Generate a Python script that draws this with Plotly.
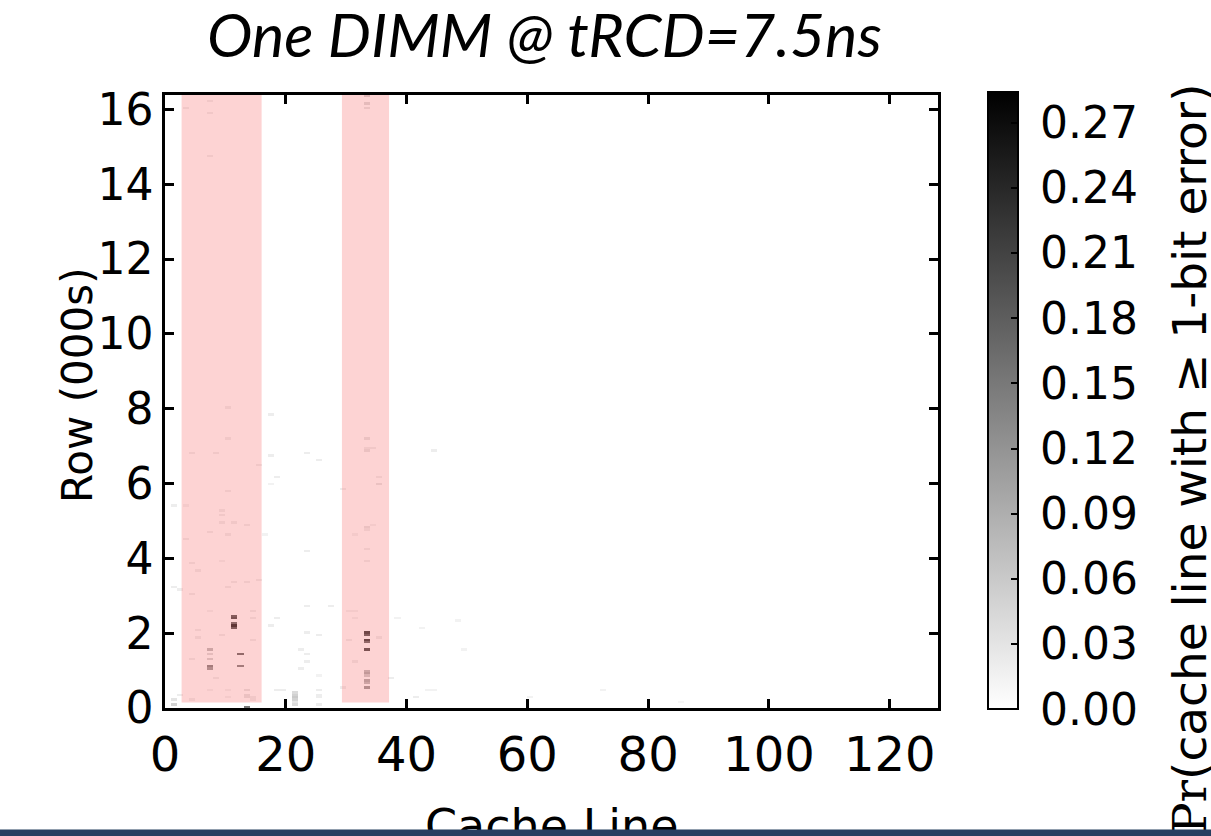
import numpy as np
import plotly.graph_objects as go

# ---------------- data ----------------
n_cache_lines = 128
n_rows_k = 16.384          # rows, in thousands
row_bin_k = 0.064          # row bin height, thousands

# sparse error-probability marks: cache line index, row (000s), probability
mark_cl = [11, 11, 11, 11, 11,
           33, 33, 33, 33, 33,
           33, 33, 33, 33, 33, 33,
           7, 7, 7, 7, 7,
           12, 12,
           21, 21, 21, 21, 21, 21,
           25, 25, 25, 25,
           14, 14, 13,
           3, 7, 7, 7, 10, 10, 4, 8, 15, 10, 1, 3, 9, 9, 9, 11, 13, 7, 10, 3,
           4, 5, 9, 10, 11, 13, 15, 1, 2, 4, 14, 14, 7, 14, 5, 5, 9, 4, 8,
           7, 10, 10, 13, 13, 13, 1, 4, 2, 1,
           17, 17, 23, 25, 18, 17, 16, 23, 23, 27, 18, 17, 23, 25, 22, 23, 23,
           22, 25, 18, 19, 29, 29,
           33, 33, 33, 33, 33, 34, 33, 35, 35, 33, 33, 34, 31, 33, 33, 30, 31,
           31, 35, 30, 31, 37,
           38, 44, 48, 42, 41, 43, 49, 44, 72, 60, 85]
mark_row = [2.47, 2.38, 2.29, 2.21, 2.12,
            2.02, 1.93, 1.82, 1.75, 1.57,
            1.02, 0.93, 0.84, 0.75, 0.66, 0.57,
            1.54, 1.42, 1.29, 1.13, 1.06,
            1.45, 1.11,
            0.41, 0.35, 0.28, 0.22, 0.15, 0.08,
            0.45, 0.38, 0.30, 0.12,
            0.30, 0.22, 0.03,
            16.02, 16.23, 15.90, 14.77, 8.00, 7.17, 6.81, 6.81, 6.50, 5.78, 5.38,
            5.43, 5.26, 5.12, 4.96, 4.99, 4.90, 4.70, 4.61, 4.48,
            3.87, 3.66, 3.96, 3.24, 3.34, 3.34, 3.45, 3.20, 3.17, 3.02, 2.60,
            2.41, 2.60, 1.84, 2.10, 1.89, 1.94, 1.33, 0.78,
            0.45, 0.45, 0.28, 0.45, 0.37, 0.28, 0.23, 0.23, 0.37, 0.10,
            7.84, 6.75, 6.81, 6.65, 6.18, 6.00, 4.61, 4.19, 2.73, 2.73, 2.41,
            2.18, 2.01, 1.94, 1.55, 1.42, 1.24, 1.05, 0.89, 0.47, 0.47, 0.52, 5.83,
            16.33, 16.16, 16.04, 7.17, 6.96, 6.96, 6.86, 6.20, 5.96, 4.83, 4.74,
            4.89, 4.64, 4.24, 3.92, 2.62, 2.62, 2.41, 1.90, 1.84, 1.26, 0.78,
            2.41, 6.91, 2.33, 2.12, 0.28, 0.45, 1.55, 0.48, 0.48, 0.30, 0.15]
mark_val = [0.20, 0.22, 0.18, 0.27, 0.20,
            0.24, 0.20, 0.24, 0.18, 0.22,
            0.08, 0.10, 0.06, 0.10, 0.08, 0.12,
            0.08, 0.04, 0.05, 0.15, 0.12,
            0.18, 0.15,
            0.04, 0.05, 0.06, 0.05, 0.03, 0.04,
            0.02, 0.02, 0.02, 0.02,
            0.02, 0.02, 0.15,
            0.02, 0.02, 0.02, 0.02, 0.02, 0.02, 0.02, 0.02, 0.02, 0.02, 0.02,
            0.015, 0.02, 0.02, 0.02, 0.02, 0.02, 0.02, 0.02, 0.02,
            0.02, 0.02, 0.015, 0.02, 0.02, 0.02, 0.02, 0.02, 0.02, 0.02, 0.02,
            0.02, 0.015, 0.02, 0.02, 0.02, 0.02, 0.02, 0.02,
            0.015, 0.015, 0.015, 0.03, 0.03, 0.03, 0.03, 0.02, 0.02, 0.05,
            0.02, 0.02, 0.02, 0.02, 0.02, 0.015, 0.015, 0.02, 0.02, 0.02, 0.02,
            0.02, 0.02, 0.02, 0.02, 0.02, 0.02, 0.02, 0.015, 0.02, 0.02, 0.02, 0.02,
            0.05, 0.04, 0.03, 0.03, 0.02, 0.02, 0.03, 0.02, 0.03, 0.03, 0.02,
            0.015, 0.015, 0.02, 0.02, 0.015, 0.015, 0.015, 0.02, 0.02, 0.02, 0.02,
            0.015, 0.02, 0.015, 0.015, 0.02, 0.015, 0.015, 0.015, 0.015, 0.015, 0.01]

# highlighted cache-line bands
band_cl_start = [2.75, 29.3]
band_cl_end = [16.0, 37.1]
band_row_start = 0.15

x_ticks = [0, 20, 40, 60, 80, 100, 120]
y_ticks = [0, 2, 4, 6, 8, 10, 12, 14, 16]
cbar_ticks = [0.00, 0.03, 0.06, 0.09, 0.12, 0.15, 0.18, 0.21, 0.24, 0.27]
z_max = 0.284

title_text = "<i>One DIMM @ tRCD=7.5ns</i>"
x_title = "Cache Line"
y_title = "Row (000s)"
cbar_title = "<span style='font-family:\"DejaVu Serif\"'>Pr</span>(cache line with ≥ 1-bit error)"

# ---------------- build grid ----------------
n_bins = int(round(n_rows_k / row_bin_k))
z = np.zeros((n_bins, n_cache_lines))
for c, r, v in zip(mark_cl, mark_row, mark_val):
    b = min(int(r / row_bin_k), n_bins - 1)
    z[b, c] = max(z[b, c], v)
x_centers = np.arange(n_cache_lines) + 0.5
y_centers = (np.arange(n_bins) + 0.5) * row_bin_k

W, H = 1211, 836
L, R, T, B = 165, 273, 95, 128
plot_w = W - L - R
plot_h = H - T - B

def px_x(p):
    return (p - L) / plot_w

def px_y(p):
    return (H - B - p) / plot_h

SANS = "DejaVu Sans, Verdana, sans-serif"
PAD = "\u2006\u200a"   # small lead-in space before colorbar labels

fig = go.Figure()
fig.add_trace(go.Heatmap(
    x=x_centers, y=y_centers, z=z,
    zmin=0, zmax=z_max, zsmooth=False,
    colorscale=[[0, "#ffffff"], [1, "#000000"]],
    colorbar=dict(
        x=px_x(988), xanchor="left", xpad=0,
        y=-0.002, yanchor="bottom", ypad=0,
        len=1.006, lenmode="fraction", thickness=30, thicknessmode="pixels",
        outlinewidth=2, outlinecolor="black",
        tickvals=cbar_ticks, ticktext=[PAD + f"{v:.2f}" for v in cbar_ticks],
        ticks="inside", ticklen=8, tickwidth=2, tickcolor="black",
        tickfont=dict(family=SANS, size=44, color="black"),
    ),
    hoverinfo="skip",
))

shapes = []
for s, e in zip(band_cl_start, band_cl_end):
    shapes.append(dict(type="rect", xref="x", yref="y", x0=s, x1=e,
                       y0=band_row_start, y1=n_rows_k + 0.1,
                       fillcolor="rgba(250,130,130,0.35)", line=dict(width=0),
                       layer="above"))
# dark strip along the bottom edge of the slide
shapes.append(dict(type="rect", xref="paper", yref="paper",
                   x0=px_x(-10), x1=px_x(W + 10), y0=px_y(H + 10), y1=px_y(830),
                   fillcolor="#243e5f", line=dict(width=0), layer="above"))

axis_common = dict(
    showgrid=False, zeroline=False, showline=True, linecolor="black",
    linewidth=2.5, mirror="ticks", ticks="inside", ticklen=9, tickwidth=2.5,
    tickcolor="black",
)

annotations = [
    dict(text=title_text, xref="paper", yref="paper", x=px_x(544), y=px_y(33),
         xanchor="center", yanchor="middle", showarrow=False,
         font=dict(family="Lato", size=61, color="black")),
    dict(text=y_title, xref="paper", yref="paper", x=px_x(77), y=px_y(385),
         xanchor="center", yanchor="middle", showarrow=False, textangle=-90,
         font=dict(family=SANS, size=42, color="black")),
    dict(text=x_title, xref="paper", yref="paper", x=px_x(552), y=px_y(797),
         xanchor="center", yanchor="top", showarrow=False,
         font=dict(family=SANS, size=46, color="black")),
    dict(text=cbar_title, xref="paper", yref="paper", x=px_x(1189), y=px_y(459),
         xanchor="center", yanchor="middle", showarrow=False, textangle=-90,
         font=dict(family=SANS, size=47, color="black")),
    dict(text="\u00a0", xref="paper", yref="paper", x=px_x(W / 2), y=px_y(833),
         xanchor="center", yanchor="middle", showarrow=False,
         width=W + 20, height=6, borderpad=0, bgcolor="#243e5f",
         font=dict(size=4, color="#243e5f")),
]

fig.update_layout(
    width=W, height=H,
    margin=dict(l=L, r=R, t=T, b=B, pad=0, autoexpand=False),
    paper_bgcolor="white", plot_bgcolor="white",
    xaxis=dict(range=[0, n_cache_lines], tickvals=x_ticks, ticklabelstandoff=3,
               tickfont=dict(family=SANS, size=48, color="black"), **axis_common),
    yaxis=dict(range=[0, n_rows_k], tickvals=y_ticks, ticklabelstandoff=0,
               tickfont=dict(family=SANS, size=44, color="black"), **axis_common),
    shapes=shapes,
    annotations=annotations,
    showlegend=False,
)

fig.write_html("out.html",
               config={"displayModeBar": False},
               post_script="document.body.style.margin='0';"
                           "document.body.style.overflow='hidden';")
